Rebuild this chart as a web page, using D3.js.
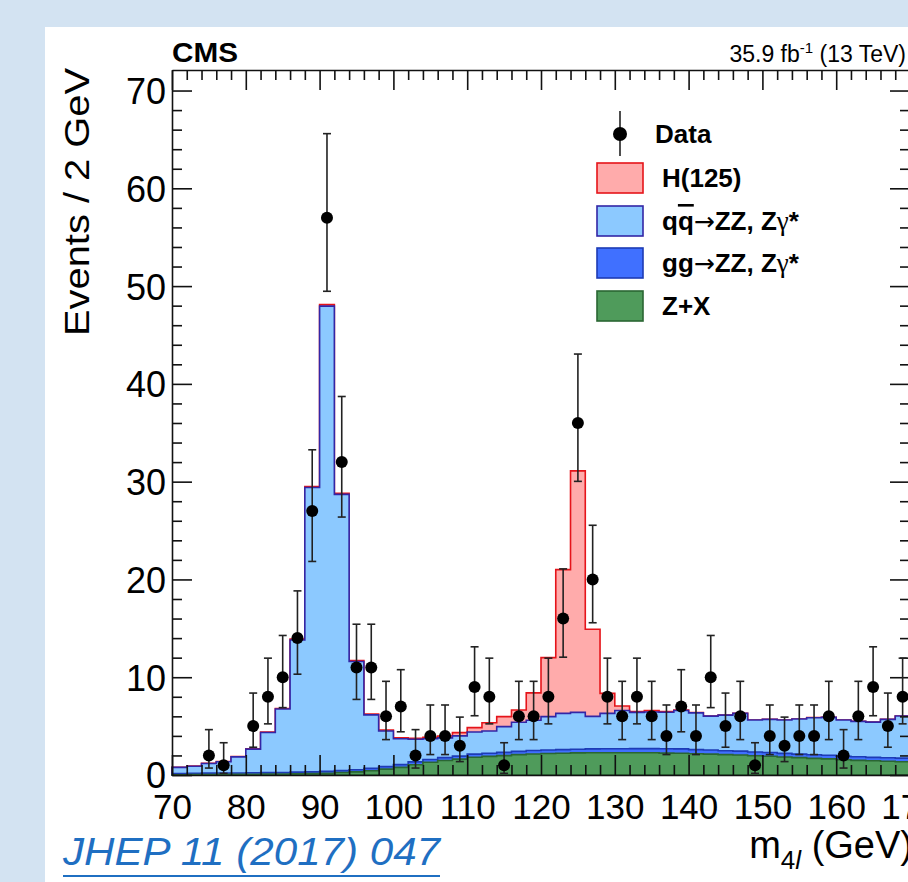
<!DOCTYPE html>
<html>
<head>
<meta charset="utf-8">
<script src="https://cdn.jsdelivr.net/npm/d3@7"></script>
<style>
body { margin: 0; background: #d3e3f2; }
svg { display: block; }
text { font-family: "Liberation Sans", Arial, Helvetica, sans-serif; }
</style>
</head>
<body>
<svg width="908" height="882"></svg>
<script>
// m4l histogram, 2 GeV bins from 70 to 170
var binLow = [70,72,74,76,78,80,82,84,86,88, 90,92,94,96,98,100,102,104,106,108,
  110,112,114,116,118,120,122,124,126,128, 130,132,134,136,138,140,142,144,146,148,
  150,152,154,156,158,160,162,164,166,168];
var binWidth = 2;

// observed events per bin
var dataCounts = [0,0,2,1,0,5,8,10,14,27, 57,32,11,11,6,7,2,4,4,3,
  9,8,1,6,6,8,16,36,20,8, 6,8,6,4,7,4,10,5,6,1,
  4,3,4,4,6,2,6,9,5,8];
// asymmetric (poisson) errors
var errLow = [0,0,1.29,0.83,0,2.16,2.77,3.11,3.69,5.16, 7.53,5.62,3.27,3.27,2.38,2.58,1.29,1.91,1.91,1.63,
  2.94,2.77,0.83,2.38,2.38,2.77,3.95,5.97,4.43,2.77, 2.38,2.77,2.38,1.91,2.58,1.91,3.11,2.16,2.38,0.83,
  1.91,1.63,1.91,1.91,2.38,1.29,2.38,2.94,2.16,2.77];
var errHigh = [0,0,2.64,2.30,0,3.38,3.95,4.27,4.83,6.26, 8.59,6.71,4.42,4.42,3.58,3.77,2.64,3.16,3.16,2.92,
  4.11,3.95,2.30,3.58,3.58,3.95,5.08,7.05,5.54,3.95, 3.58,3.95,3.58,3.16,3.77,3.16,4.27,3.38,3.58,2.30,
  3.16,2.92,3.16,3.16,3.58,2.64,3.58,4.11,3.38,3.95];

// expected contributions per bin (not stacked)
var zx = [0.03,0.04,0.05,0.06,0.07,0.08,0.09,0.10,0.12,0.14, 0.17,0.25,0.32,0.44,0.60,0.78,1.05,1.30,1.48,1.62,
  1.82,1.90,1.98,2.08,2.15,2.20,2.23,2.26,2.28,2.28, 2.28,2.28,2.27,2.24,2.22,2.18,2.14,2.08,2.04,1.97,
  1.92,1.84,1.78,1.70,1.65,1.56,1.50,1.45,1.40,1.36];
var ggZZ = [0.13,0.13,0.14,0.14,0.14,0.15,0.15,0.16,0.17,0.18, 0.20,0.20,0.21,0.24,0.26,0.28,0.29,0.29,0.30,0.31,
  0.31,0.32,0.33,0.34,0.35,0.36,0.37,0.38,0.39,0.40, 0.41,0.42,0.43,0.44,0.45,0.42,0.41,0.40,0.40,0.38,
  0.38,0.37,0.36,0.37,0.37,0.36,0.36,0.35,0.36,0.37];
var qqZZ = [0.62,0.73,0.99,1.15,1.64,2.42,4.11,6.49,13.51,29.08, 47.58,28.25,11.07,5.47,3.64,2.64,2.31,2.11,2.02,2.07,
  2.27,2.28,2.64,2.98,3.10,3.41,3.70,3.76,3.33,3.62, 3.91,3.70,3.75,3.74,3.93,3.75,3.47,3.64,3.86,3.27,
  3.39,3.41,3.58,3.79,3.87,3.70,3.62,3.61,3.93,4.30];
var higgs = [0.02,0.02,0.02,0.02,0.03,0.03,0.05,0.05,0.10,0.10, 0.15,0.10,0.10,0.09,0.10,0.10,0.10,0.15,0.19,0.33,
  0.44,0.85,1.02,1.25,2.80,6.03,14.70,24.70,8.90,2.05, 0.46,0.10,0.13,0.06,0.05,0.03,0.02,0.02,0.01,0.01,
  0.01,0.01,0.01,0.01,0.01,0.01,0.01,0.01,0.01,0.01];

var xMajor = [70,80,90,100,110,120,130,140,150,160,170];
var yMajor = [0,10,20,30,40,50,60,70];

var svg = d3.select("svg");
var W = 908, H = 882;

svg.append("rect").attr("width", W).attr("height", H).attr("fill", "#d3e3f2");
svg.append("rect").attr("x", 45).attr("y", 27).attr("width", W - 45).attr("height", H - 27).attr("fill", "#fff");

var x = d3.scaleLinear().domain([70, 170]).range([172, 910]);
var y = d3.scaleLinear().domain([0, 72.1]).range([775, 70]);

// stack from the bottom up
var layers = [
  {vals: zx, fill: "#4f9b5b", stroke: "#2a6633"},
  {vals: ggZZ, fill: "#4070ff", stroke: "#1d3bb5"},
  {vals: qqZZ, fill: "#8cc9ff", stroke: "#3226a6"},
  {vals: higgs, fill: "#ffabab", stroke: "#e5141a"}
];
var running = binLow.map(function(){ return 0; });
layers.forEach(function(l){
  l.cum = running.map(function(r, i){ return r + l.vals[i]; });
  running = l.cum;
});

var area = d3.area()
  .x(function(d){ return x(d.x); })
  .y0(y(0))
  .y1(function(d){ return y(d.v); })
  .curve(d3.curveStepAfter);

var hist = svg.append("g");
layers.slice().reverse().forEach(function(l){
  var pts = binLow.map(function(b, i){ return {x: b, v: l.cum[i]}; });
  pts.push({x: binLow[binLow.length-1] + binWidth, v: l.cum[l.cum.length-1]});
  hist.append("path")
    .attr("d", area(pts))
    .attr("fill", l.fill)
    .attr("stroke", l.stroke)
    .attr("stroke-width", 1.6);
});

// axes, ROOT style ticks pointing inwards
var xMinor = d3.range(70, 171, 2).filter(function(v){ return v % 10 != 0; });
var yMinor = d3.range(0, 72, 2).filter(function(v){ return v % 10 != 0; });

function styleAxis(g){
  g.selectAll("path, line").attr("stroke", "#111").attr("stroke-width", 1.6);
}

var bottomAxis = svg.append("g").attr("transform", "translate(0,775)")
  .call(d3.axisBottom(x).tickValues(xMajor).tickSize(-20).tickSizeOuter(0).tickPadding(19).tickFormat(d3.format("d")));
bottomAxis.append("g").call(d3.axisBottom(x).tickValues(xMinor).tickSize(-10).tickFormat("")).select(".domain").remove();
bottomAxis.call(styleAxis);
bottomAxis.selectAll(".tick text").attr("font-size", 35).attr("fill", "#000")
  .style("font-family", '"Liberation Sans", Arial, sans-serif');

var topAxis = svg.append("g").attr("transform", "translate(0,70)")
  .call(d3.axisTop(x).tickValues(xMajor).tickSize(-20).tickSizeOuter(0).tickFormat(""));
topAxis.append("g").call(d3.axisTop(x).tickValues(xMinor).tickSize(-10).tickFormat("")).select(".domain").remove();
topAxis.call(styleAxis);

var leftAxis = svg.append("g").attr("transform", "translate(172,0)")
  .call(d3.axisLeft(y).tickValues(yMajor).tickSize(-20).tickSizeOuter(0).tickPadding(6).tickFormat(d3.format("d")));
leftAxis.append("g").call(d3.axisLeft(y).tickValues(yMinor).tickSize(-10).tickFormat("")).select(".domain").remove();
leftAxis.call(styleAxis);
leftAxis.selectAll(".tick text").attr("font-size", 36).attr("dy", "0.36em").attr("fill", "#000")
  .style("font-family", '"Liberation Sans", Arial, sans-serif');

var rightAxis = svg.append("g").attr("transform", "translate(910,0)")
  .call(d3.axisRight(y).tickValues(yMajor).tickSize(-20).tickSizeOuter(0).tickFormat(""));
rightAxis.append("g").call(d3.axisRight(y).tickValues(yMinor).tickSize(-10).tickFormat("")).select(".domain").remove();
rightAxis.call(styleAxis);

// data points with error bars
var pts = svg.append("g");
binLow.forEach(function(b, i){
  var n = dataCounts[i];
  if (n <= 0) return;
  var cx = x(b + binWidth / 2);
  var y1 = y(n + errHigh[i]), y0 = y(n - errLow[i]);
  pts.append("line").attr("x1", cx).attr("x2", cx).attr("y1", y1).attr("y2", y0)
    .attr("stroke", "#222").attr("stroke-width", 1.6);
  [y1, y0].forEach(function(yy){
    pts.append("line").attr("x1", cx - 4).attr("x2", cx + 4).attr("y1", yy).attr("y2", yy)
      .attr("stroke", "#222").attr("stroke-width", 1.6);
  });
  pts.append("circle").attr("cx", cx).attr("cy", y(n)).attr("r", 6).attr("fill", "#000");
});

// legend
var leg = svg.append("g");
leg.append("line").attr("x1", 620).attr("x2", 620).attr("y1", 111).attr("y2", 156).attr("stroke", "#222").attr("stroke-width", 1.6);
leg.append("circle").attr("cx", 620).attr("cy", 134).attr("r", 7).attr("fill", "#000");
leg.append("text").attr("x", 655).attr("y", 143).attr("font-size", 26).attr("font-weight", "bold").text("Data");

var legRows = [
  {layer: layers[3], cy: 178},
  {layer: layers[2], cy: 221},
  {layer: layers[1], cy: 263},
  {layer: layers[0], cy: 306}
];
legRows.forEach(function(r){
  leg.append("rect").attr("x", 597).attr("y", r.cy - 15).attr("width", 46).attr("height", 30)
    .attr("fill", r.layer.fill).attr("stroke", r.layer.stroke).attr("stroke-width", 1.6);
});

function legText(cy){
  return leg.append("text").attr("x", 662).attr("y", cy + 9).attr("font-size", 26).attr("font-weight", "bold");
}
function arrowAndGamma(t){
  t.append("tspan").attr("font-weight", "normal").style("font-family", '"DejaVu Sans", sans-serif')
    .attr("font-size", 25).text("\u2192");
  t.append("tspan").text("ZZ, Z");
  t.append("tspan").attr("font-weight", "normal").style("font-family", '"Liberation Serif", serif')
    .attr("font-size", 27).text("\u03b3");
  t.append("tspan").text("*");
}
legText(178).text("H(125)");
var t = legText(221);
t.append("tspan").text("q");
t.append("tspan").style("text-decoration", "overline").text("q");
arrowAndGamma(t);
t = legText(263);
t.append("tspan").text("gg");
arrowAndGamma(t);
legText(306).text("Z+X");

// labels
svg.append("text").attr("x", 172).attr("y", 62).attr("font-size", 28).attr("font-weight", "bold")
  .attr("textLength", 66).attr("lengthAdjust", "spacingAndGlyphs").text("CMS");

var lumi = svg.append("text").attr("x", 906).attr("y", 62).attr("text-anchor", "end").attr("font-size", 23);
lumi.append("tspan").text("35.9 fb");
lumi.append("tspan").attr("font-size", 15).attr("dy", -9).text("-1");
lumi.append("tspan").attr("dy", 9).text(" (13 TeV)");

svg.append("text").attr("transform", "translate(89,68) rotate(-90)")
  .attr("text-anchor", "end").attr("font-size", 35)
  .attr("textLength", 268).attr("lengthAdjust", "spacingAndGlyphs")
  .text("Events / 2 GeV");

var xt = svg.append("text").attr("x", 913).attr("y", 858).attr("text-anchor", "end").attr("font-size", 38);
xt.append("tspan").text("m");
xt.append("tspan").attr("font-size", 26).attr("dy", 11).text("4");
xt.append("tspan").attr("font-size", 26).attr("font-style", "italic").text("l");
xt.append("tspan").attr("dy", -11).text(" (GeV)");

svg.append("text").attr("x", 63).attr("y", 865).attr("font-size", 38).attr("font-style", "italic")
  .attr("fill", "#1f6fc2").attr("textLength", 377).attr("lengthAdjust", "spacingAndGlyphs")
  .text("JHEP 11 (2017) 047");
svg.append("line").attr("x1", 63).attr("x2", 440).attr("y1", 876).attr("y2", 876)
  .attr("stroke", "#1f6fc2").attr("stroke-width", 2);
</script>
</body>
</html>
